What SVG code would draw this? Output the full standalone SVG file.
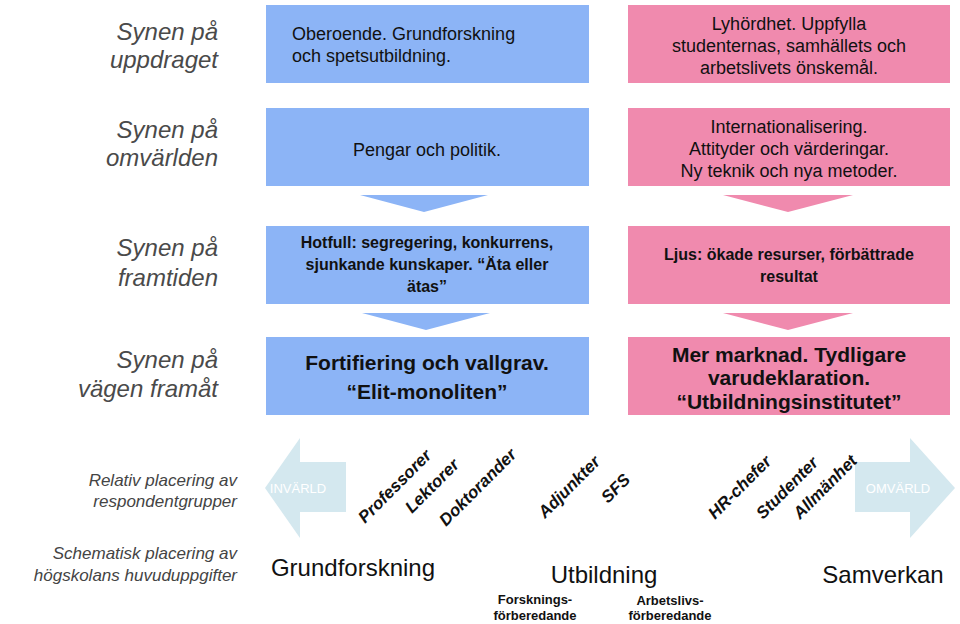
<svg xmlns="http://www.w3.org/2000/svg" width="960" height="624" viewBox="0 0 960 624">
<style>
.b{fill:#8cb4f6}.p{fill:#f08aae}
.lab{font-family:"Liberation Sans",sans-serif;font-style:italic;fill:#4a4a4a;font-size:24px;text-anchor:end}
.sm{font-family:"Liberation Sans",sans-serif;font-style:italic;fill:#444;font-size:17px;text-anchor:end}
.t{font-family:"Liberation Sans",sans-serif;font-size:18px;fill:#111;text-anchor:middle}
.tb{font-family:"Liberation Sans",sans-serif;font-size:16px;fill:#111;text-anchor:middle;font-weight:bold}
.tl{font-family:"Liberation Sans",sans-serif;font-size:21px;fill:#111;text-anchor:middle;font-weight:bold}
.r{font-family:"Liberation Sans",sans-serif;font-size:17px;fill:#111;font-weight:bold;font-style:italic}
.big{font-family:"Liberation Sans",sans-serif;font-size:24px;fill:#111;text-anchor:middle}
.s{font-family:"Liberation Sans",sans-serif;font-size:13px;fill:#111;text-anchor:middle;font-weight:bold}
.ar{fill:#d4e8ef}.at{font-family:"Liberation Sans",sans-serif;font-size:13px;fill:#fff;text-anchor:middle}
</style>
<g id="labels">
<text class="lab" x="218" y="40">Synen på</text><text class="lab" x="218" y="68">uppdraget</text>
<text class="lab" x="218" y="138">Synen på</text><text class="lab" x="218" y="166">omvärlden</text>
<text class="lab" x="218" y="256">Synen på</text><text class="lab" x="218" y="286">framtiden</text>
<text class="lab" x="218" y="368">Synen på</text><text class="lab" x="218" y="397">vägen framåt</text>
<text class="sm" x="237" y="486">Relativ placering av</text><text class="sm" x="237" y="507">respondentgrupper</text>
<text class="sm" x="237" y="559">Schematisk placering av</text><text class="sm" x="237" y="581">högskolans huvuduppgifter</text>
</g>
<g id="b1"><rect class="b" x="266" y="5" width="323" height="78"/><text class="t" x="292" y="40" style="text-anchor:start">Oberoende. Grundforskning</text><text class="t" x="292" y="62" style="text-anchor:start">och spetsutbildning.</text></g>
<g id="b2"><rect class="b" x="266" y="108" width="323" height="78"/><text class="t" x="427" y="156">Pengar och politik.</text></g>
<g id="b3"><rect class="b" x="266" y="226" width="323" height="78"/><text class="tb" x="427" y="248">Hotfull: segregering, konkurrens,</text><text class="tb" x="427" y="270">sjunkande kunskaper. “Äta eller</text><text class="tb" x="427" y="292">ätas”</text></g>
<g id="b4"><rect class="b" x="266" y="337" width="323" height="78"/><text class="tl" x="427" y="370">Fortifiering och vallgrav.</text><text class="tl" x="427" y="399">“Elit-monoliten”</text></g>
<g id="p1"><rect class="p" x="628" y="5" width="322" height="78"/><text class="t" x="789" y="30">Lyhördhet. Uppfylla</text><text class="t" x="789" y="52">studenternas, samhällets och</text><text class="t" x="789" y="74">arbetslivets önskemål.</text></g>
<g id="p2"><rect class="p" x="628" y="108" width="322" height="78"/><text class="t" x="789" y="133">Internationalisering.</text><text class="t" x="789" y="155">Attityder och värderingar.</text><text class="t" x="789" y="177">Ny teknik och nya metoder.</text></g>
<g id="p3"><rect class="p" x="628" y="226" width="322" height="78"/><text class="tb" x="789" y="260">Ljus: ökade resurser, förbättrade</text><text class="tb" x="789" y="282">resultat</text></g>
<g id="p4"><rect class="p" x="628" y="337" width="322" height="78"/><text class="tl" x="789" y="362">Mer marknad. Tydligare</text><text class="tl" x="789" y="385">varudeklaration.</text><text class="tl" x="789" y="409">“Utbildningsinstitutet”</text></g>
<g id="connectors">
<polygon class="b" points="360,195 488,195 424,212"/>
<polygon class="p" points="723,195 853,195 788,212"/>
<polygon class="b" points="362,313 490,313 426,330"/>
<polygon class="p" points="723,313 853,313 788,330"/>
</g>
<g id="invarld"><polygon class="ar" points="265,488 300,438 300,462 346,462 346,512 300,512 300,538"/><text class="at" x="298" y="493">INVÄRLD</text></g>
<g id="omvarld"><polygon class="ar" points="855,462 910,462 910,438 955,488 910,538 910,512 855,512"/><text class="at" x="898" y="493">OMVÄRLD</text></g>
<g id="groups">
<text class="r" transform="translate(365,524) rotate(-45)">Professorer</text>
<text class="r" transform="translate(412,514) rotate(-45)">Lektorer</text>
<text class="r" transform="translate(446,527) rotate(-45)">Doktorander</text>
<text class="r" transform="translate(545,519) rotate(-45)">Adjunkter</text>
<text class="r" transform="translate(608,504) rotate(-45)">SFS</text>
<text class="r" transform="translate(715,520) rotate(-45)">HR-chefer</text>
<text class="r" transform="translate(763,520) rotate(-45)">Studenter</text>
<text class="r" transform="translate(800,520) rotate(-45)">Allmänhet</text>
</g>
<g id="tasks">
<text class="big" x="353" y="576">Grundforskning</text>
<text class="big" x="604" y="583">Utbildning</text>
<text class="big" x="883" y="583">Samverkan</text>
<text class="s" x="535" y="604">Forsknings-</text><text class="s" x="535" y="620">förberedande</text>
<text class="s" x="670" y="605">Arbetslivs-</text><text class="s" x="670" y="620">förberedande</text>
</g>
</svg>
